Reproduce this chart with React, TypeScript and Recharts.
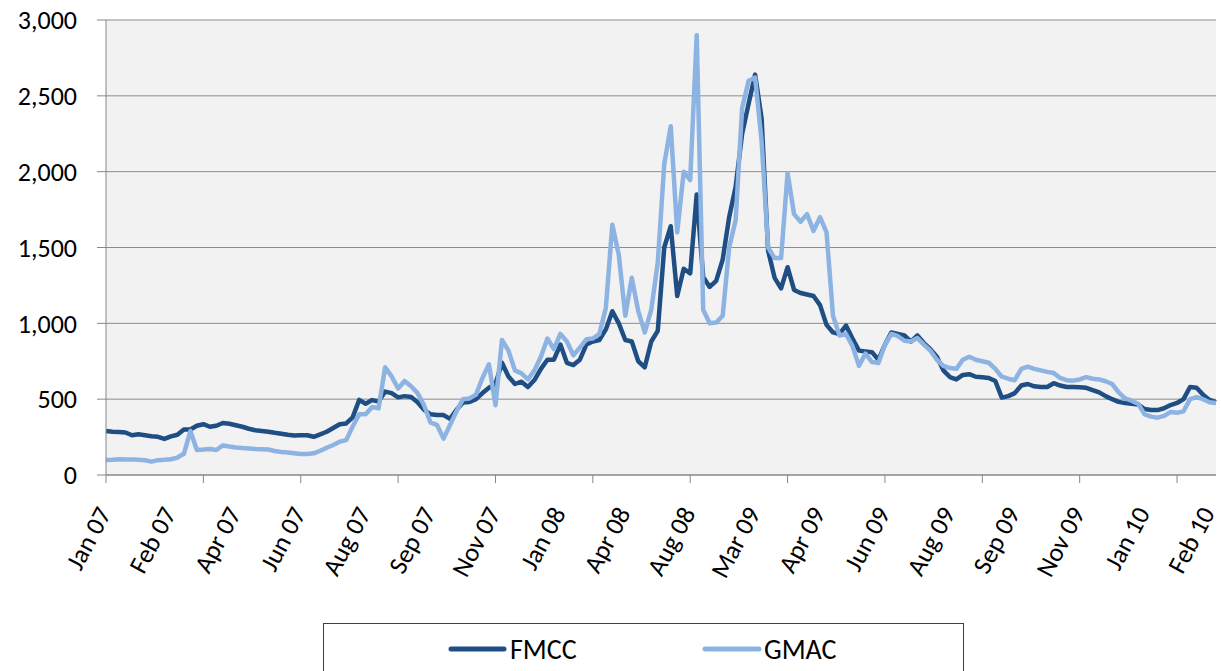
import React from "react"
import { LineChart, Line, XAxis, YAxis, CartesianGrid } from "recharts"

// one label every 10 points, one tick mark every 15 points
const xLabels = [
  "Jan 07", "Feb 07", "Apr 07", "Jun 07", "Aug 07", "Sep 07", "Nov 07", "Jan 08", "Apr 08",
  "Aug 08", "Mar 09", "Apr 09", "Jun 09", "Aug 09", "Sep 09", "Nov 09", "Jan 10", "Feb 10",
]

const fmcc = [
  290, 285, 283, 280, 262, 268, 262, 255, 252, 238,
  255, 265, 300, 300, 325, 335, 318, 325, 343, 338,
  328, 318, 305, 295, 290, 285, 278, 272, 265, 260,
  262, 262, 252, 268, 285, 310, 335, 340, 380, 495,
  470, 494, 485, 550, 540, 512, 520, 514, 480, 430,
  400, 395, 395, 370, 430, 478, 482, 500, 540, 575,
  600, 740, 650, 600, 615, 580, 626, 700, 760, 760,
  860, 740, 725, 760, 860, 880, 890, 960, 1080, 1000,
  890, 880, 750, 710, 880, 950, 1500, 1640, 1180, 1360,
  1330, 1850, 1305, 1240, 1280, 1420, 1700, 1900, 2250, 2450,
  2640, 2350, 1480, 1300, 1230, 1370, 1220, 1200, 1190, 1180,
  1120, 990, 940, 930, 985, 900, 820, 815, 810, 760,
  860, 940, 930, 920, 880, 920, 870, 830, 780, 690,
  646, 630, 660, 665, 648, 645, 640, 620, 510, 520,
  540, 590, 600, 585, 580, 580, 605, 590, 580, 580,
  578, 575, 560, 545, 520, 500, 482, 474, 470, 465,
  435, 428, 428, 440, 461, 475, 500, 580, 575, 530,
  495, 481,
]

const gmac = [
  99, 100, 104, 103, 103, 100, 97, 88, 98, 100,
  104, 115, 140, 290, 165, 168, 172, 165, 195, 188,
  182, 178, 175, 172, 170, 168, 158, 152, 148, 143,
  138, 138, 143, 160, 180, 198, 220, 230, 320, 400,
  400, 448, 440, 710, 650, 570, 620, 585, 540, 460,
  345, 330, 240, 330, 420, 500, 505, 530, 640, 730,
  460, 890, 820, 690, 670, 630, 690, 780, 900, 830,
  930, 880, 790, 840, 895, 900, 930, 1100, 1650, 1450,
  1050, 1300, 1080, 940, 1090, 1400, 2050, 2300, 1600, 2000,
  1945, 2900, 1090, 1000, 1005, 1050, 1500, 1680, 2420, 2600,
  2620, 2200, 1500, 1430, 1430, 1990, 1720, 1670, 1720, 1610,
  1700, 1600, 1050, 920, 930, 850, 720, 800, 745, 738,
  860, 930, 915, 885, 880, 903, 860, 820, 760, 720,
  705, 700, 760, 780, 760, 750, 740, 700, 648, 635,
  625, 700, 715, 700, 690, 680, 672, 640, 625, 622,
  630, 645, 635, 630, 618, 600, 545, 505, 490, 470,
  400, 385, 378, 390, 415, 410, 420, 500, 514, 500,
  480, 475,
]

const yTicks = [0, 500, 1000, 1500, 2000, 2500, 3000]

const data = fmcc.map((v, i) => ({ i, FMCC: v, GMAC: gmac[i] }))

const xTicks = data.map(d => d.i).filter(i => i % 10 === 0 || i % 15 === 0)

const FONT = "Carlito, Calibri, Lato, sans-serif"
const AXIS = "#868686"

function XTick(props: any) {
  const { x, y, payload } = props
  const v = payload.value
  return (
    <g>
      {v % 15 === 0 && <line x1={x} y1={y} x2={x} y2={y + 8} stroke={AXIS} strokeWidth={1} />}
      {v % 10 === 0 && (
        <text
          transform={`translate(${x + 6},${y + 38}) rotate(-62)`}
          textAnchor="end"
          fontSize={26}
          fontFamily={FONT}
          fill="#000"
        >
          {xLabels[v / 10]}
        </text>
      )}
    </g>
  )
}

export default function App() {
  return (
    <div style={{ position: "absolute", left: 0, top: 0, width: 1221, height: 671, overflow: "hidden", background: "#fff" }}>
      <LineChart width={1221} height={671} data={data} margin={{ top: 20, right: 5, left: 0, bottom: 0 }}>
        <CartesianGrid vertical={false} stroke="#8c8c8c" fill="#f2f2f2" />
        <XAxis
          dataKey="i"
          type="number"
          domain={[0, data.length - 1]}
          ticks={xTicks}
          interval={0}
          height={196}
          tickSize={0}
          tickMargin={0}
          tickLine={false}
          stroke={AXIS}
          tick={<XTick />}
        />
        <YAxis
          domain={[0, 3000]}
          ticks={yTicks}
          width={106}
          tickSize={9}
          tickMargin={20}
          stroke={AXIS}
          tick={{ fontSize: 26, fontFamily: FONT, fill: "#000" }}
          tickFormatter={(v: number) => v.toLocaleString("en-US")}
        />
        <Line type="linear" dataKey="FMCC" stroke="#1F4E84" strokeWidth={4.5} dot={false} isAnimationActive={false} strokeLinejoin="round" />
        <Line type="linear" dataKey="GMAC" stroke="#8DB3E2" strokeWidth={4.5} dot={false} isAnimationActive={false} strokeLinejoin="round" />
      </LineChart>
      <div
        style={{
          position: "absolute", left: 323, top: 623, width: 641, height: 70,
          border: "1px solid #404040", boxSizing: "border-box", background: "#fff",
        }}
      >
        <svg width={641} height={70} style={{ position: "absolute", left: 0, top: 0 }}>
          <line x1={127} y1={25} x2={180} y2={25} stroke="#1F4E84" strokeWidth={5} strokeLinecap="round" />
          <text x={186} y={25} dominantBaseline="central" fontSize={28} fontFamily={FONT} fill="#000">FMCC</text>
          <line x1={381} y1={25} x2={435} y2={25} stroke="#8DB3E2" strokeWidth={5} strokeLinecap="round" />
          <text x={440} y={25} dominantBaseline="central" fontSize={28} fontFamily={FONT} fill="#000">GMAC</text>
        </svg>
      </div>
    </div>
  )
}
